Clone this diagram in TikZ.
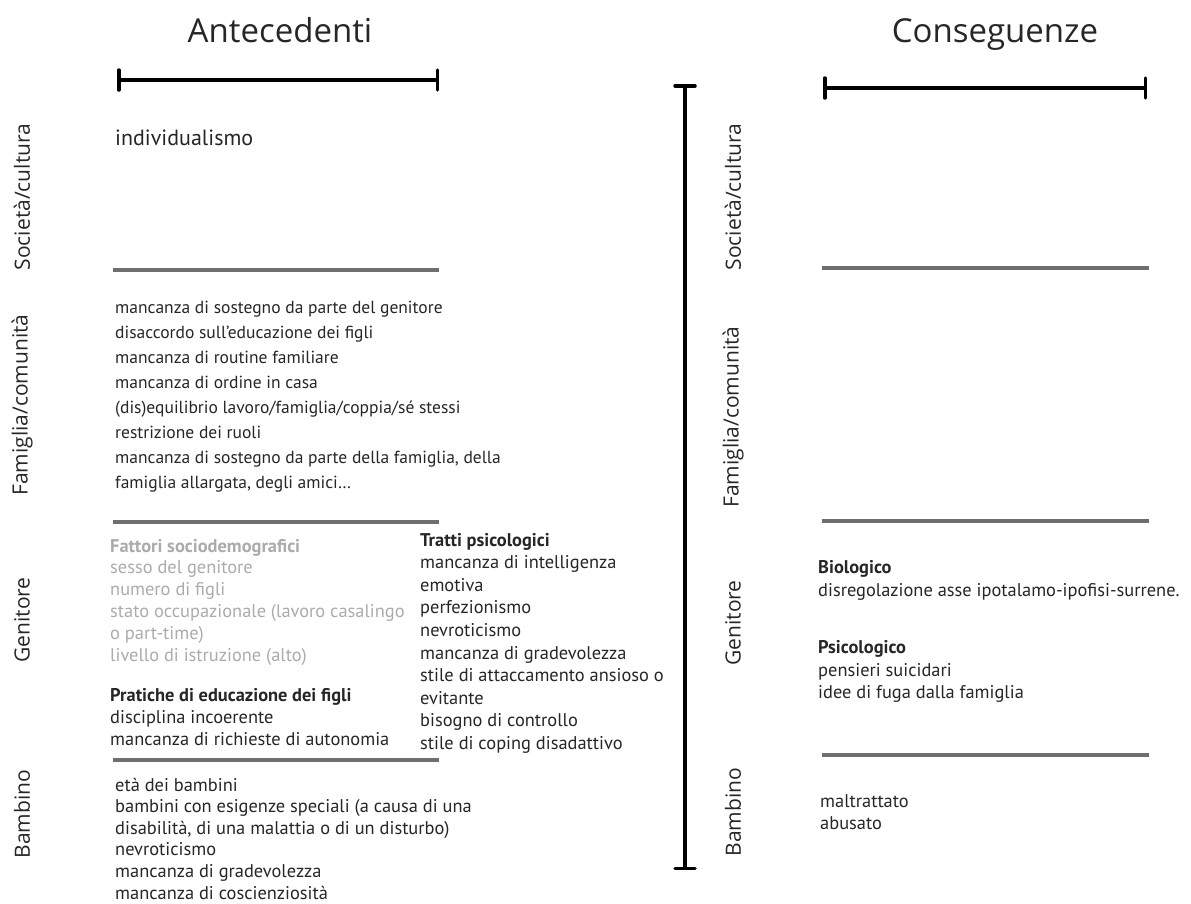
\documentclass[tikz,border=0pt]{standalone}
\usepackage{fontspec}
\setmainfont{PT Sans}
\newfontfamily\labelfont{Open Sans}
\usetikzlibrary{arrows.meta}
\definecolor{textdark}{HTML}{262626}
\definecolor{fadegray}{HTML}{ABABAB}
\definecolor{sepgray}{HTML}{6E6E6E}

\begin{document}
\begin{tikzpicture}[x=1pt,y=-1pt,
    ruler/.style={line width=3.5pt,line cap=round,{Bar[width=20pt,line cap=round]}-{Bar[width=20pt,line cap=round]}},
    sepline/.style={draw=sepgray,line width=4pt},
    title/.style={anchor=base,font=\labelfont\fontsize{33}{38}\selectfont,text=textdark},
    side/.style={font=\labelfont\fontsize{21}{24}\selectfont,rotate=90,text=textdark},
    item/.style={anchor=base west,inner sep=0pt,font=\fontsize{18.4}{20}\selectfont,text=textdark},
    faded/.style={item,text=fadegray},
    head/.style={item,font=\fontsize{18.4}{20}\selectfont\bfseries}]
    \useasboundingbox (0,0) rectangle (1191,903);

    % titles
    \node[title] (ante) at (280,42) {Antecedenti};
    \node[title] (cons) at (995,42) {Conseguenze};

    % rulers
    \coordinate (lbarA) at (117,80);
    \coordinate (lbarB) at (439,80);
    \coordinate (rbarA) at (823,88);
    \coordinate (rbarB) at (1147,88);
    \coordinate (mtop) at (685,84);
    \coordinate (mbot) at (685,870);
    \draw[ruler] (lbarA) -- (lbarB);
    \draw[ruler] (rbarA) -- (rbarB);
    \draw[ruler] (mtop) -- (mbot);

    % separators, left and right
    \foreach \y [count=\i] in {270,522,760}
        \draw[sepline] (113,\y) coordinate (lsepA-\i) -- (439,\y) coordinate (lsepB-\i);
    \foreach \y [count=\i] in {268,521,755}
        \draw[sepline] (822,\y) coordinate (rsepA-\i) -- (1149,\y) coordinate (rsepB-\i);

    % side labels
    \foreach \n/\t/\y in {soc/Società\slash cultura/197, fam/Famiglia\slash comunità/405, gen/Genitore/620, bam/Bambino/814}
        \node[side] (left-\n) at (22,\y) {\t};
    \foreach \n/\t/\y in {soc/Società\slash cultura/197, fam/Famiglia\slash comunità/417, gen/Genitore/623, bam/Bambino/812}
        \node[side] (right-\n) at (733,\y) {\t};

    % antecedenti: societa
    \node[item,font=\fontsize{22}{24}\selectfont] (indiv) at (115,145) {individualismo};

    % antecedenti: famiglia
    \foreach \t [count=\i from 0] in {{mancanza di sostegno da parte del genitore},
        {disaccordo sull'educazione dei figli},
        {mancanza di routine familiare},
        {mancanza di ordine in casa},
        {(dis)equilibrio lavoro/famiglia/coppia/sé stessi},
        {restrizione dei ruoli},
        {mancanza di sostegno da parte della famiglia, della},
        {famiglia allargata, degli amici…}}
        \node[item,font=\fontsize{17.5}{20}\selectfont] (fam-\i) at (115,{313+25*\i}) {\t};

    % antecedenti: genitore
    \node[head,text=fadegray] (socio) at (110,552) {Fattori sociodemografici};
    \foreach \t [count=\i] in {{sesso del genitore},
        {numero di figli},
        {stato occupazionale (lavoro casalingo},
        {o part-time)},
        {livello di istruzione (alto)}}
        \node[faded] (socio-\i) at (110,{552+21.8*\i}) {\t};
    \node[head] (prat) at (110,701) {Pratiche di educazione dei figli};
    \foreach \t [count=\i] in {{disciplina incoerente},
        {mancanza di richieste di autonomia}}
        \node[item] (prat-\i) at (110,{701+22*\i}) {\t};
    \node[head] (tratti) at (420,546) {Tratti psicologici};
    \foreach \t [count=\i] in {{mancanza di intelligenza},
        {emotiva},
        {perfezionismo},
        {nevroticismo},
        {mancanza di gradevolezza},
        {stile di attaccamento ansioso o},
        {evitante},
        {bisogno di controllo},
        {stile di coping disadattivo}}
        \node[item] (tratti-\i) at (420,{546+22.6*\i}) {\t};

    % antecedenti: bambino
    \foreach \t [count=\i from 0] in {{età dei bambini},
        {bambini con esigenze speciali (a causa di una},
        {disabilità, di una malattia o di un disturbo)},
        {nevroticismo},
        {mancanza di gradevolezza},
        {mancanza di coscienziosità}}
        \node[item] (bam-\i) at (115,{791+21.6*\i}) {\t};

    % conseguenze: genitore
    \node[head] (bio) at (818,573) {Biologico};
    \node[item] (bio-1) at (818,596) {disregolazione asse ipotalamo-ipofisi-surrene.};
    \node[head] (psi) at (818,653) {Psicologico};
    \node[item] (psi-1) at (818,676) {pensieri suicidari};
    \node[item] (psi-2) at (818,698) {idee di fuga dalla famiglia};

    % conseguenze: bambino
    \node[item] (maltr) at (820,807) {maltrattato};
    \node[item] (abus) at (820,829) {abusato};
\end{tikzpicture}
\end{document}
